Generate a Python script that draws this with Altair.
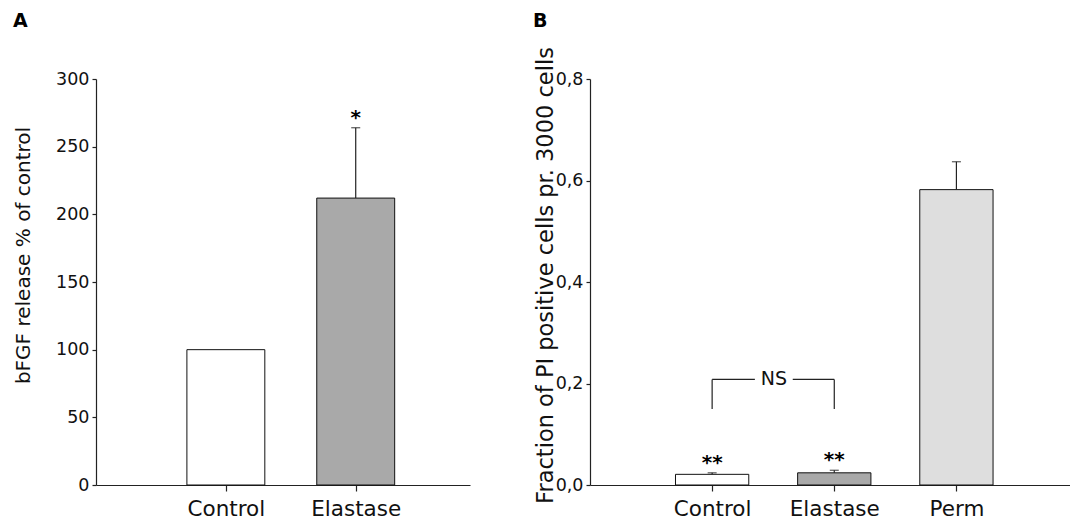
import altair as alt
import pandas as pd

FONT = "DejaVu Sans"

# ---------------- data ----------------
a_categories = ["Control", "Elastase"]
a_values = [100, 212]
a_err_upper = [None, 264]
a_marks = ["", "*"]

b_categories = ["Control", "Elastase", "Perm"]
b_values = [0.021, 0.024, 0.582]
b_err_upper = [0.024, 0.029, 0.637]
b_marks = ["**", "**", ""]

a_y_ticks = [0, 50, 100, 150, 200, 250, 300]
b_y_ticks = [0.0, 0.2, 0.4, 0.6, 0.8]

ns_text = "NS"
ns_level = 0.208
ns_bottom = 0.150

panel_letters = ["A", "B"]

# ---------------- styles ----------------
fills = {"Control": "#ffffff", "Elastase": "#a9a9a9", "Perm": "#dedede"}
FILL_SCALE = alt.Scale(domain=list(fills.keys()), range=list(fills.values()))
BAR_HALF = 0.3


def frame(cats, vals, errs, marks):
    df = pd.DataFrame({"cat": cats, "value": vals, "err": errs, "mark": marks})
    df["pos"] = range(1, len(cats) + 1)
    df["lo"] = df["pos"] - BAR_HALF
    df["hi"] = df["pos"] + BAR_HALF
    df["top"] = df["err"].fillna(df["value"])
    return df


def label_expr(cats):
    expr = "''"
    for i in range(len(cats), 0, -1):
        expr = f"datum.value == {i} ? '{cats[i-1]}' : {expr}"
    return expr


def make_axes(cats, xmax, ymax, yticks, ylab_expr, ytitle, title_size, title_x, title_y):
    xscale = alt.Scale(domain=[0, xmax], nice=False, zero=False)
    yscale = alt.Scale(domain=[0, ymax], nice=False, zero=True)
    xaxis = alt.Axis(values=list(range(1, len(cats) + 1)), labelExpr=label_expr(cats),
                     title=None, grid=False, tickSize=6, labelPadding=7,
                     labelFontSize=21.5, labelFlush=False, labelAngle=0,
                     labelFont=FONT)
    yaxis_kwargs = dict(values=yticks, title=ytitle, grid=False, tickSize=4,
                        labelPadding=3, labelFontSize=17.5, labelFlush=False,
                        labelFont=FONT, titleFont=FONT,
                        titleFontSize=title_size, titleFontWeight="normal",
                        titleX=title_x, titleY=title_y, titleAngle=270,
                        titleAlign="center", titleBaseline="alphabetic")
    if ylab_expr:
        yaxis_kwargs["labelExpr"] = ylab_expr
    yaxis = alt.Axis(**yaxis_kwargs)
    return xscale, yscale, xaxis, yaxis


def panel_layers(df, cats, ax, letter, letter_dx):
    xscale, yscale, xaxis, yaxis = ax
    base = alt.Chart(df)
    bars = base.mark_bar(stroke="#111111", strokeWidth=1).encode(
        x=alt.X("lo:Q", scale=xscale, axis=xaxis),
        x2="hi:Q",
        y=alt.Y("value:Q", scale=yscale, axis=yaxis),
        y2=alt.datum(0),
        fill=alt.Fill("cat:N", scale=FILL_SCALE, legend=None),
    )
    err = base.transform_filter("isValid(datum.err)")
    rule = err.mark_rule(color="#222222", strokeWidth=1.2).encode(
        x=alt.X("pos:Q", axis=xaxis), y=alt.Y("value:Q", axis=yaxis), y2="err:Q")
    cap = err.mark_tick(orient="horizontal", size=9, thickness=1.3, color="#222222").encode(
        x=alt.X("pos:Q", axis=xaxis), y=alt.Y("err:Q", axis=yaxis))
    stars = base.transform_filter("datum.mark != ''").mark_text(
        font=FONT, fontSize=20, fontWeight="bold", baseline="alphabetic", dy=-4,
        color="#000000").encode(
        x=alt.X("pos:Q", axis=xaxis), y=alt.Y("top:Q", axis=yaxis), text="mark:N")
    tag = alt.Chart(pd.DataFrame({"t": [letter]})).mark_text(
        font=FONT, fontSize=19, fontWeight="bold", align="left", baseline="alphabetic",
        color="#000000").encode(x=alt.value(letter_dx), y=alt.value(-52), text="t:N")
    return [bars, rule, cap, stars, tag]


df_a = frame(a_categories, a_values, a_err_upper, a_marks)
df_b = frame(b_categories, b_values, b_err_upper, b_marks)

ax_a = make_axes(a_categories, 2.88, 300, a_y_ticks, None,
                 "bFGF release % of control", 20, -67, 176)
ax_b = make_axes(b_categories, 3.93, 0.8, b_y_ticks,
                 "replace(format(datum.value, '.1f'), '.', ',')",
                 "Fraction of  PI positive cells pr. 3000 cells", 22.5, -38, 196)

chart_a = alt.layer(*panel_layers(df_a, a_categories, ax_a, panel_letters[0], -83)).properties(
    width=374, height=406)

# NS bracket between Control (1) and Elastase (2)
ns_df = pd.DataFrame({
    "x": [1, 1, 1.66, 2],
    "x2": [1, 1.35, 2, 2],
    "y": [ns_bottom, ns_level, ns_level, ns_bottom],
    "y2": [ns_level, ns_level, ns_level, ns_level],
})
ns_lines = alt.Chart(ns_df).mark_rule(color="#222222", strokeWidth=1.2).encode(
    x=alt.X("x:Q", axis=ax_b[2]), x2="x2:Q", y=alt.Y("y:Q", axis=ax_b[3]), y2="y2:Q")
ns_label = alt.Chart(pd.DataFrame({"x": [1.505], "y": [ns_level], "t": [ns_text]})).mark_text(
    font=FONT, fontSize=19, baseline="middle", color="#111111").encode(
    x=alt.X("x:Q", axis=ax_b[2]), y=alt.Y("y:Q", axis=ax_b[3]), text="t:N")

chart_b = alt.layer(*panel_layers(df_b, b_categories, ax_b, panel_letters[1], -57),
                    ns_lines, ns_label).properties(width=480, height=406)

chart = alt.hconcat(chart_a, chart_b, spacing=63).properties(
    padding={"left": 13, "top": 12, "right": 0, "bottom": 0},
    background="white",
).configure_view(stroke=None).configure_axis(
    labelFont=FONT, titleFont=FONT, labelColor="#111111", titleColor="#111111",
    domainColor="#222222", tickColor="#222222", domainWidth=1.2, tickWidth=1.2
)

chart.save("out.html", embed_options={"renderer": "svg", "actions": False})
